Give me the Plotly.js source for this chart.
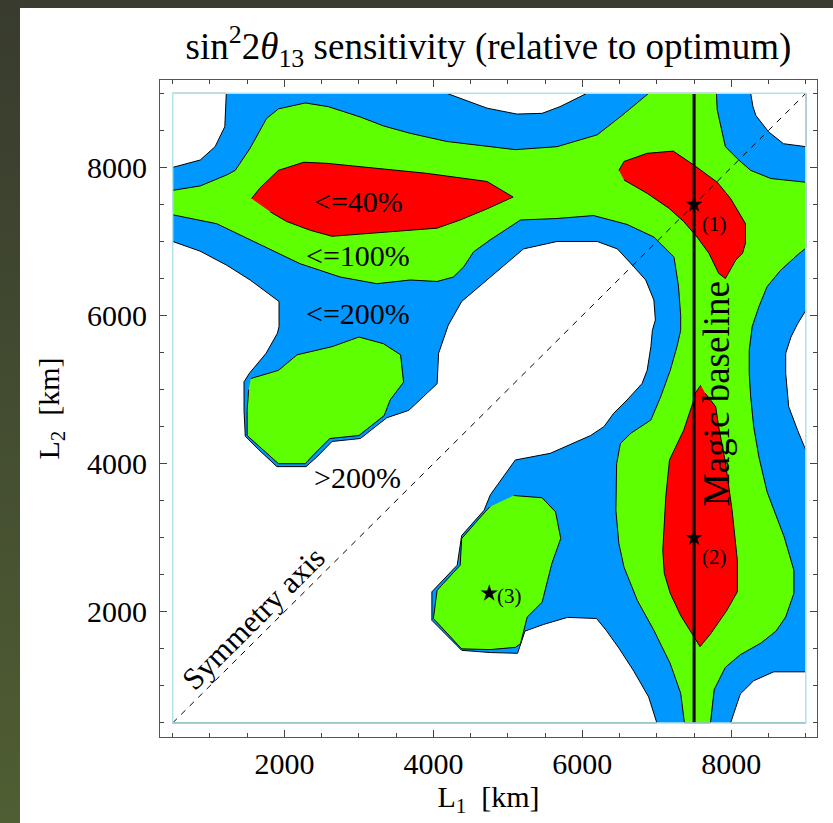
<!DOCTYPE html>
<html>
<head>
<meta charset="utf-8">
<script src="https://cdn.plot.ly/plotly-3.0.1.min.js"></script>
<style>
  html, body { margin: 0; padding: 0; width: 833px; height: 823px; overflow: hidden; background: #393c2f; }
  #strip { position: absolute; left: 0; top: 0; width: 20px; height: 823px; background: linear-gradient(#383b2e, #4f5e33); }
  #chart { position: absolute; left: 20px; top: 8px; width: 813px; height: 815px; background: #fff; }
</style>
</head>
<body>
<div id="strip"></div>
<div id="chart"></div>
<script>
// ---- data (km) ----
const L_MIN = 500, L_MAX = 9000;       // computed domain of L1 and L2
const magicBaseline = 7500;            // km
const starL1 = [7500, 7500, 4750];
const starL2 = [7500, 3000, 2250];
const starNames = ['(1)', '(2)', '(3)'];

// >200% regions (white)
const w1x = [500, 870, 1070, 1200, 1220, 500];
const w1y = [8000, 8100, 8280, 8550, 9000, 9000];
const w2x = [4180, 4360, 4720, 5120, 5460, 5700, 6060];
const w2y = [9000, 8930, 8800, 8720, 8730, 8820, 9000];
const w3x = [8260, 8290, 8330, 8500, 8700, 9000, 9000];
const w3y = [9000, 8820, 8700, 8480, 8320, 8280, 9000];
const w5x = [9000, 8890, 8800, 8730, 8730, 8770, 8890, 9000];
const w5y = [6070, 5890, 5710, 5490, 5220, 4770, 4450, 4180];
const w6x = [9000, 8570, 8300, 8120, 8060, 7990, 9000];
const w6y = [1190, 1190, 1070, 890, 710, 500, 500];
const w4x = [500, 7000, 6890, 6690, 6490, 6320, 6190, 5800, 5480, 5230, 5130, 4765, 4380, 3980, 3980, 4320, 4380, 4680, 4765,
             5100, 5570, 6110, 6290, 6420, 6600, 6800, 6870, 6920, 6940, 6980, 6960, 6850, 6690, 6470, 6200, 5660, 5210,
             4765, 4380, 4200, 4070, 4050, 3670, 3375, 3020, 2640, 2435, 2290, 1900, 1655, 1475, 1458, 1458, 1530, 1754,
             1906, 1928, 1928, 1540, 1225, 867, 500];
const w4y = [500, 500, 850, 1200, 1510, 1750, 1910, 1925, 1830, 1740, 1440, 1450, 1480, 1885, 2270, 2630, 3030, 3370, 3580,
             4050, 4140, 4380, 4500, 4680, 4860, 5080, 5260, 5580, 5800, 5940, 6210, 6480, 6660, 6900, 7000, 7000, 6900,
             6520, 6190, 5870, 5490, 5080, 4720, 4620, 4340, 4300, 4090, 3960, 3960, 4190, 4370, 4722, 5105, 5220, 5490,
             5760, 5850, 6190, 6480, 6680, 6870, 7000];

// <=100% regions (green)
const g1x = [500, 870, 1230, 1340, 1540, 1760, 1920, 2280, 2590, 3020, 3330, 3690, 4180, 4760, 5100, 5660, 6200, 6530, 6720, 6890,
             7800, 7810, 7880, 7920, 8100, 8260, 8530, 9000,
             9000, 8890, 8660, 8480, 8370, 8280, 8240, 8240, 8260, 8300, 8370, 8480, 8710, 8840, 8840, 8730, 8600, 8400, 8120, 7920, 7770, 7720,
             7370, 7320, 7180, 6960, 6740, 6560, 6490, 6450, 6460, 6510, 6650, 6920, 7050, 7180, 7270, 7320, 7320, 7290, 7230,
             6960, 6600, 6150, 5660, 5170, 4760, 4540, 4410, 4270, 4050, 3690, 3240, 2750, 2210, 1540, 1090, 500];
const g1y = [7690, 7750, 7900, 7960, 8260, 8660, 8790, 8870, 8820, 8680, 8560, 8460, 8350, 8280, 8240, 8280, 8440, 8700, 8860, 9000,
             9000, 8780, 8460, 8280, 8100, 7960, 7850, 7800,
             6910, 6820, 6610, 6390, 6120, 5850, 5530, 5220, 4900, 4500, 4090, 3620, 3010, 2560, 2250, 1930, 1740, 1580, 1420, 1250, 950, 500,
             500, 900, 1300, 1750, 2150, 2600, 2920, 3370, 4000, 4270, 4410, 4590, 4900, 5260, 5580, 5800, 6000, 6400, 6790,
             7060, 7230, 7350, 7310, 7290, 7020, 6860, 6660, 6520, 6460, 6480, 6430, 6520, 6700, 7020, 7240, 7360];
const g2x = [1550, 1920, 2170, 2640, 3000, 3330, 3560, 3600, 3420, 3340, 3000, 2610, 2410, 2280, 1920, 1500, 1500, 1520];
const g2y = [5150, 5260, 5470, 5580, 5710, 5620, 5470, 5100, 4860, 4650, 4380, 4340, 4140, 4000, 4000, 4380, 4720, 5000];
const g3x = [4760, 4650, 4380, 4360, 4050, 4000, 4380, 4760, 5100, 5170, 5260, 5460, 5590, 5710, 5640, 5460, 5080];
const g3y = [3420, 3300, 2990, 2630, 2290, 1910, 1500, 1490, 1520, 1570, 1930, 2130, 2650, 2990, 3350, 3540, 3570];

// <=40% regions (red)
const r1x = [1560, 1670, 1920, 2260, 2570, 3240, 3910, 4720, 5070, 4720, 4360, 4050, 3470, 3020, 2640, 2350, 2030, 1810];
const r1y = [7580, 7720, 7960, 8070, 8055, 7990, 7920, 7810, 7600, 7440, 7290, 7180, 7130, 7100, 7070, 7150, 7270, 7400];
const r2x = [6490, 6560, 6870, 7220, 7500, 7810, 7990, 8190, 8190, 8150, 8060, 7920, 7830, 7700, 7540, 7360, 7160, 6870, 6560];
const r2y = [7960, 8080, 8190, 8220, 8030, 7800, 7580, 7240, 6980, 6840, 6750, 6500, 6570, 6840, 7060, 7270, 7450, 7650, 7830];
const r3x = [7590, 7520, 7480, 7360, 7170, 7120, 7080, 7100, 7180, 7320, 7500, 7580, 7720, 7940, 8080, 8080, 8010, 7920, 7830, 7790, 7650];
const r3y = [5060, 4960, 4810, 4450, 4050, 3550, 2830, 2520, 2250, 1950, 1660, 1530, 1700, 2020, 2270, 2700, 3370, 4020, 4500, 4770, 4950];

// region labels
const levelLabels = ['<=40%', '<=100%', '<=200%', '>200%'];
const levelLabelL1 = [2990, 2990, 2990, 2985];
const levelLabelL2 = [7540, 6815, 6025, 3820];

// ---- drawing ----
const BLUE = '#0098ff', GREEN = '#5eff00', RED = '#ff0000';
const SERIF = 'Liberation Serif, Times New Roman, serif';

function poly(x, y, color) {
  return { type: 'scatter', mode: 'lines', x: x, y: y, fill: 'toself', fillcolor: color,
           line: { color: 'black', width: 1 }, hoverinfo: 'skip', showlegend: false };
}

const traces = [];
traces.push({ type: 'scatter', mode: 'lines', x: [L_MIN, L_MAX, L_MAX, L_MIN], y: [L_MIN, L_MIN, L_MAX, L_MAX],
              fill: 'toself', fillcolor: BLUE, line: { width: 0, color: BLUE }, hoverinfo: 'skip', showlegend: false });
[[w1x, w1y], [w2x, w2y], [w3x, w3y], [w4x, w4y], [w5x, w5y], [w6x, w6y]].forEach(p => traces.push(poly(p[0], p[1], 'white')));
[[g1x, g1y], [g2x, g2y], [g3x, g3y]].forEach(p => traces.push(poly(p[0], p[1], GREEN)));
[[r1x, r1y], [r2x, r2y], [r3x, r3y]].forEach(p => traces.push(poly(p[0], p[1], RED)));
// symmetry axis
traces.push({ type: 'scatter', mode: 'lines', x: [L_MIN, L_MAX], y: [L_MIN, L_MAX],
              line: { color: 'black', width: 1, dash: '6px,6px' }, hoverinfo: 'skip', showlegend: false });
// magic baseline
traces.push({ type: 'scatter', mode: 'lines', x: [magicBaseline, magicBaseline], y: [L_MIN, L_MAX],
              line: { color: 'black', width: 3 }, hoverinfo: 'skip', showlegend: false });
// optimum points
traces.push({ type: 'scatter', mode: 'markers', x: starL1, y: starL2,
              marker: { symbol: 'star', size: 13, color: 'black' }, hoverinfo: 'skip', showlegend: false });

const annotations = [];
levelLabels.forEach((t, i) => annotations.push({ x: levelLabelL1[i], y: levelLabelL2[i], text: t.replace('<', '&lt;').replace('>', '&gt;'),
  showarrow: false, font: { family: SERIF, size: 30, color: 'black' }, xanchor: 'center', yanchor: 'middle' }));
const starLabelDx = [270, 270, 270];
const starLabelDy = [-260, -260, -30];
starNames.forEach((t, i) => annotations.push({ x: starL1[i] + starLabelDx[i], y: starL2[i] + starLabelDy[i], text: t,
  showarrow: false, font: { family: SERIF, size: 21, color: 'black' }, xanchor: 'center', yanchor: 'middle' }));
annotations.push({ x: 7800, y: 4945, text: 'Magic baseline', textangle: -90, showarrow: false,
  font: { family: SERIF, size: 37, color: 'black' }, xanchor: 'center', yanchor: 'middle' });
annotations.push({ x: 1580, y: 1910, text: 'Symmetry axis', textangle: -45, showarrow: false,
  font: { family: SERIF, size: 31, color: 'black' }, xanchor: 'center', yanchor: 'middle' });

const axisCommon = {
  showgrid: false, zeroline: false, showline: true, linecolor: '#555', linewidth: 1, mirror: 'ticks',
  ticks: 'inside', ticklen: 7, tickwidth: 1, tickcolor: '#444', tickmode: 'linear', tick0: 0, dtick: 2000,
  minor: { tickmode: 'linear', tick0: 0, dtick: 500, ticks: 'inside', ticklen: 4, tickwidth: 1, tickcolor: '#444' },
  tickfont: { family: SERIF, size: 30, color: 'black' }, fixedrange: true
};

const layout = {
  width: 813, height: 815,
  margin: { l: 140, r: 16, t: 72, b: 86 },
  paper_bgcolor: 'white', plot_bgcolor: 'white',
  title: { text: 'sin<sup>2</sup>2<i>θ</i><sub>13</sub> sensitivity (relative to optimum)',
           font: { family: SERIF, size: 37, color: 'black' }, x: 0.5, xref: 'paper', xanchor: 'center',
           y: 1 - 38 / 815, yref: 'container', yanchor: 'middle' },
  xaxis: Object.assign({}, axisCommon, { range: [330, 9150], ticklabelstandoff: 0,
           title: { text: 'L<sub>1</sub>\u00a0 [km]', font: { family: SERIF, size: 30, color: 'black' }, standoff: 2 } }),
  yaxis: Object.assign({}, axisCommon, { range: [310, 9180], ticklabelstandoff: 6,
           title: { text: 'L<sub>2</sub>\u00a0 [km]', font: { family: SERIF, size: 30, color: 'black' }, standoff: 18 } }),
  annotations: annotations,
  shapes: [{ type: 'rect', xref: 'x', yref: 'y', x0: L_MIN, x1: L_MAX, y0: L_MIN, y1: L_MAX,
             line: { color: '#b0e2ec', width: 1.5 }, layer: 'above' }],
  showlegend: false
};

Plotly.newPlot('chart', traces, layout, { displayModeBar: false, staticPlot: true });
</script>
</body>
</html>
